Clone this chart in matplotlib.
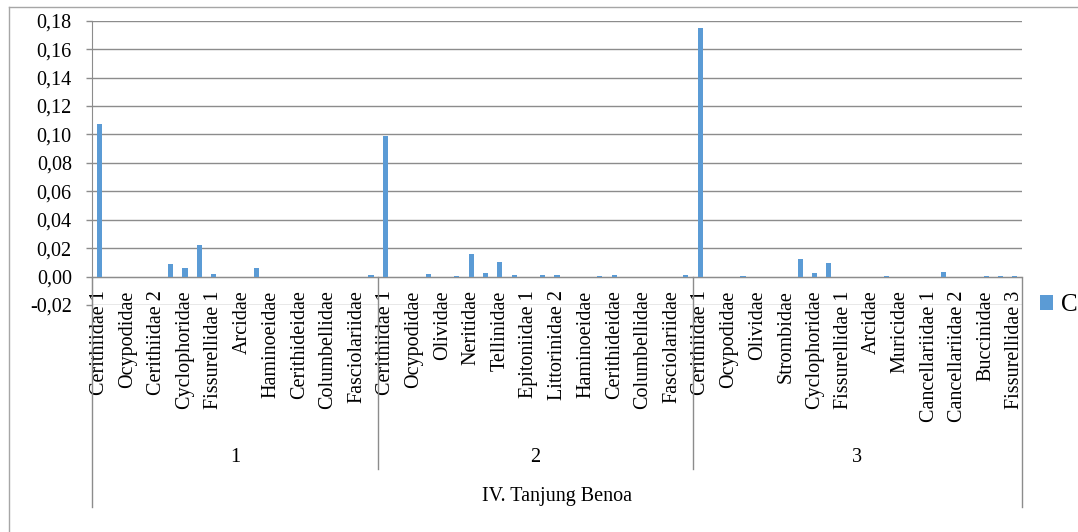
import matplotlib.pyplot as plt
from matplotlib.lines import Line2D

plt.rcParams['font.family'] = ['Liberation Serif', 'DejaVu Serif']

# Nilai C per famili, tiap stasiun (label hanya untuk kategori berselang)
g1_labels = ['Cerithiidae 1', 'Ocypodidae', 'Cerithiidae 2', 'Cyclophoridae',
             'Fissurellidae 1', 'Arcidae', 'Haminoeidae', 'Cerithideidae',
             'Columbellidae', 'Fasciolariidae']
g1_values = [0.107, 0, 0, 0, 0, 0.0089, 0.0061, 0.0223, 0.0016, 0,
             0, 0.0061, 0, 0, 0, 0, 0, 0, 0, 0.0009]

g2_labels = ['Cerithiidae 1', 'Ocypodidae', 'Olividae', 'Neritidae', 'Tellinidae',
             'Epitoniidae 1', 'Littorinidae 2', 'Haminoeidae', 'Cerithideidae',
             'Columbellidae', 'Fasciolariidae']
g2_values = [0.099, 0, 0, 0.0019, 0, 0.0005, 0.0157, 0.0028, 0.0106, 0.0014, 0,
             0.0014, 0.0014, 0, 0, 0.0005, 0.0009, 0, 0, 0, 0, 0.0014]

g3_labels = ['Cerithiidae 1', 'Ocypodidae', 'Olividae', 'Strombidae', 'Cyclophoridae',
             'Fissurellidae 1', 'Arcidae', 'Muricidae', 'Cancellariidae 1',
             'Cancellariidae 2', 'Buccinidae', 'Fissurellidae 3']
g3_values = [0.175, 0, 0, 0.0005, 0, 0, 0, 0.0122, 0.0023, 0.0098, 0, 0,
             0, 0.0002, 0, 0, 0, 0.0033, 0, 0, 0.0002, 0.0002, 0.0002]

stations = ['1', '2', '3']
site = 'IV. Tanjung Benoa'

groups = [(g1_labels, g1_values), (g2_labels, g2_values), (g3_labels, g3_values)]

values = []
tick_pos = []
tick_lab = []
bounds = [0]
for labels, vals in groups:
    start = len(values)
    values += vals
    for k, lab in enumerate(labels):
        tick_pos.append(start + 2 * k)
        tick_lab.append(lab)
    bounds.append(len(values))

x = list(range(len(values)))
grey = '#8c8c8c'
fs = 14.5

fig = plt.figure(figsize=(10.78, 5.32), dpi=100)
ax = fig.add_axes([92 / 1078, 1 - 305 / 532, 930 / 1078, 284.3 / 532])

ax.bar(x, values, width=0.36, color='#5b9bd5', label='C', zorder=3)

ax.set_xlim(-0.5, len(values) - 0.5)
ax.set_ylim(-0.02, 0.18)
yt = [i * 0.02 - 0.02 for i in range(11)]
ax.set_yticks(yt)
ax.set_yticklabels([f'{v:.2f}'.replace('.', ',') for v in yt], fontsize=fs)
ax.yaxis.grid(True, color=grey, linewidth=1.0, zorder=0)
ax.tick_params(axis='y', length=4.5, width=1.0, color=grey, pad=10)

ax.spines['top'].set_visible(False)
ax.spines['right'].set_visible(False)
ax.spines['left'].set_color(grey)
ax.spines['bottom'].set_color(grey)
ax.spines['bottom'].set_position(('data', 0))
ax.set_xticks(tick_pos)
ax.set_xticklabels(tick_lab, rotation=90, fontsize=fs)
ax.tick_params(axis='x', length=0, pad=10)

# sumbu kategori bertingkat: stasiun dan lokasi
tr = ax.get_xaxis_transform()
y0 = 0.1
for b in bounds[1:-1]:
    ax.add_line(Line2D([b - 0.5, b - 0.5], [y0, -0.577], transform=tr,
                       color=grey, linewidth=1.0, clip_on=False))
for b in (bounds[0], bounds[-1]):
    ax.add_line(Line2D([b - 0.5, b - 0.5], [y0, -0.7105], transform=tr,
                       color=grey, linewidth=1.0, clip_on=False))
for i, st in enumerate(stations):
    cx = (bounds[i] + bounds[i + 1]) / 2 - 0.5
    ax.text(cx, -0.535, st, transform=tr, ha='center', va='center', fontsize=fs)
ax.text((bounds[0] + bounds[-1]) / 2 - 0.5, -0.672, site, transform=tr,
        ha='center', va='center', fontsize=fs)

ax.legend(loc='center left', bbox_to_anchor=(1.0, 0.0), frameon=False,
          fontsize=18, handlelength=0.55, handleheight=0.55, handletextpad=0.3,
          borderaxespad=0.3)

# bingkai area grafik
fig.add_artist(Line2D([9 / 1078, 9 / 1078], [0, 1 - 7 / 532], transform=fig.transFigure,
                      color='#a6a6a6', linewidth=1.0))
fig.add_artist(Line2D([9 / 1078, 1], [1 - 7 / 532, 1 - 7 / 532], transform=fig.transFigure,
                      color='#a6a6a6', linewidth=1.0))

fig.savefig('out.png', dpi=100)
